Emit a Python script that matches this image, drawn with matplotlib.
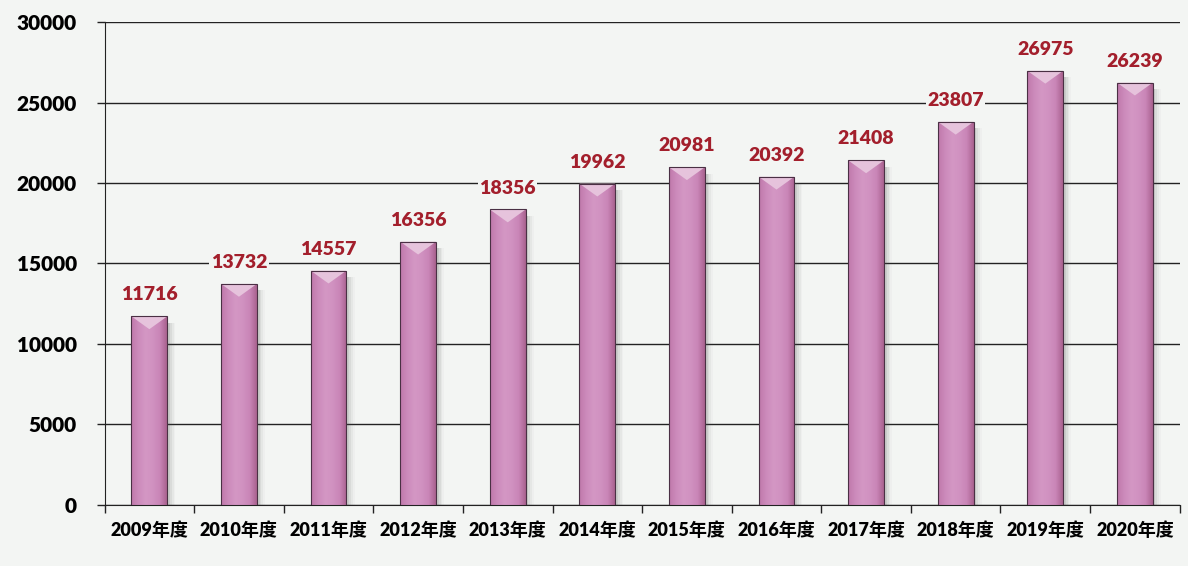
import numpy as np
import matplotlib.pyplot as plt
from matplotlib.colors import LinearSegmentedColormap
from matplotlib.patches import Polygon

# data
years = ["2009年度", "2010年度", "2011年度", "2012年度", "2013年度", "2014年度",
         "2015年度", "2016年度", "2017年度", "2018年度", "2019年度", "2020年度"]
values = [11716, 13732, 14557, 16356, 18356, 19962,
          20981, 20392, 21408, 23807, 26975, 26239]
yticks = [0, 5000, 10000, 15000, 20000, 25000, 30000]

bg = "#f3f5f3"
fonts = ["Lato", "Noto Sans CJK SC", "DejaVu Sans"]
plt.rcParams["font.family"] = fonts

fig = plt.figure(figsize=(11.88, 5.66), dpi=100, facecolor=bg)
ax = fig.add_axes([0.088, 0.108, 0.905, 0.853], facecolor=bg)

x = np.arange(len(years))
width = 0.40

# pink bar, mostly flat with a soft lighter middle and darker sides
bar_cmap = LinearSegmentedColormap.from_list(
    "bar", ["#bf78aa", "#cc8abb", "#d497c4", "#d192c1", "#c985b7", "#a9628f"])
grad = np.linspace(0, 1, 256).reshape(1, -1)

ax.set_xlim(-0.5, len(years) - 0.5)
ax.set_ylim(0, 30000)

for xi, v in zip(x, values):
    # soft shadow on the right
    for k, a in enumerate([0.12, 0.08, 0.05, 0.03]):
        ax.bar(xi + 0.03 + k * 0.02, v - 400, width=width, bottom=0,
               color="#555555", alpha=a, zorder=2, linewidth=0)
    bar = ax.bar(xi, v, width=width, color="none", edgecolor="#4a3044",
                 linewidth=0.8, zorder=4)[0]
    im = ax.imshow(grad, cmap=bar_cmap, aspect="auto", zorder=3,
                   extent=[xi - width / 2, xi + width / 2, 0, v])
    im.set_clip_path(bar)
    # light bevel at the top
    tri = Polygon([[xi - width / 2, v], [xi + width / 2, v], [xi, v - 800]],
                  closed=True, facecolor="#e6c3dc", edgecolor="none", zorder=3.5)
    ax.add_patch(tri)
    ax.text(xi, v + 800, f"{v}", ha="center", va="bottom", fontsize=14,
            fontweight="heavy", color="#a31f2c", zorder=5,
            bbox=dict(facecolor=bg, edgecolor="none", pad=1.0))

ax.set_xlim(-0.5, len(years) - 0.5)
ax.set_ylim(0, 30000)

ax.set_yticks(yticks)
ax.set_yticklabels([str(t) for t in yticks], fontsize=15, fontweight="heavy")
ax.yaxis.grid(True, color="#222222", linewidth=1.0, zorder=1)
ax.set_axisbelow(True)

ax.set_xticks(x)
ax.set_xticklabels(years, fontsize=13, fontweight="heavy", family=fonts)
ax.set_xticks(np.arange(-0.5, len(years)), minor=True)
ax.tick_params(axis="x", which="major", length=0, pad=12)
ax.tick_params(axis="x", which="minor", length=6, width=1, color="#222222")
ax.tick_params(axis="y", length=6, width=1, color="#222222", pad=14)

for side in ["top", "right"]:
    ax.spines[side].set_visible(False)
ax.spines["left"].set_color("#222222")
ax.spines["bottom"].set_color("#222222")

fig.savefig("out.png", dpi=100, facecolor=bg)
